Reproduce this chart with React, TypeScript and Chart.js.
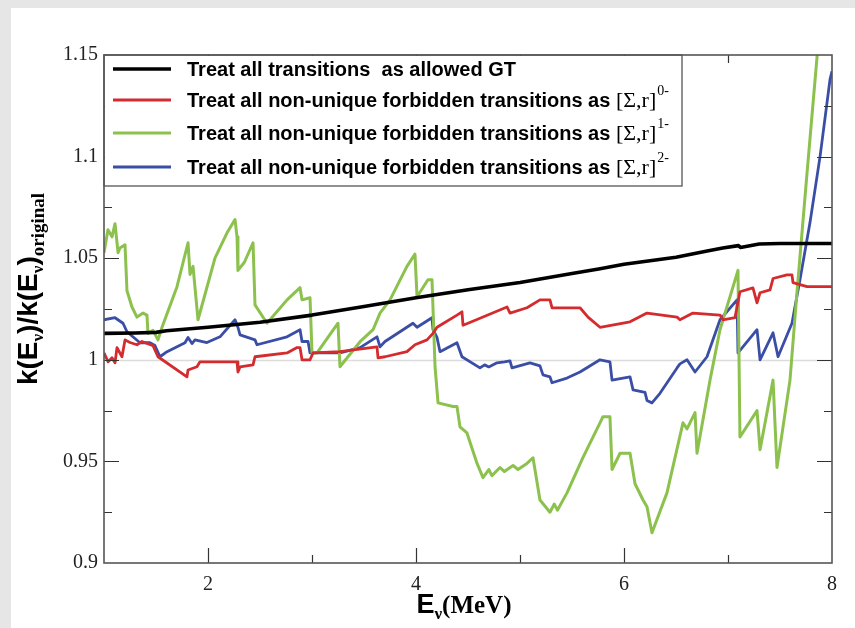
import React, { useEffect, useRef } from 'react';
import { Chart, registerables } from 'chart.js';

Chart.register(...registerables);

const W = 855;
const H = 628;

// Treat all transitions as allowed GT (black)
const allowedE = [1.0, 1.3, 1.5, 1.6, 2.0, 2.5, 3.0, 3.5, 4.0, 4.5, 5.0, 5.5, 5.77, 6.0, 6.5, 6.8, 6.95, 7.1, 7.12, 7.3, 7.5, 7.7, 8.0];
const allowedK = [1.013, 1.0132, 1.0135, 1.0143, 1.016, 1.0185, 1.022, 1.0262, 1.0305, 1.0345, 1.038, 1.0425, 1.0448, 1.047, 1.0505, 1.0535, 1.055, 1.0562, 1.0553, 1.057, 1.0572, 1.0572, 1.0572];

// [Σ,r]0- (red)
const zeroE = [1.0, 1.04, 1.077, 1.106, 1.125, 1.173, 1.202, 1.25, 1.317, 1.365, 1.471, 1.519, 1.798, 1.808, 1.894, 1.923, 2.144, 2.279, 2.288, 2.308, 2.433, 2.452, 2.76, 2.856, 2.885, 2.904, 2.981, 3.01, 3.269, 3.625, 3.635, 3.702, 3.913, 3.99, 4.106, 4.163, 4.202, 4.394, 4.442, 4.452, 4.5, 4.875, 4.904, 5.067, 5.192, 5.288, 5.308, 5.577, 5.654, 5.769, 6.058, 6.221, 6.51, 6.538, 6.663, 6.923, 6.952, 7.067, 7.115, 7.24, 7.279, 7.308, 7.404, 7.433, 7.567, 7.615, 7.625, 7.76, 8.0];
const zeroK = [1.0034, 0.999, 1.001, 0.9985, 1.006, 1.0015, 1.0098, 1.0085, 1.0074, 1.009, 1.007, 1.0015, 0.9916, 0.995, 0.9966, 0.999, 0.999, 0.999, 0.994, 0.9965, 0.9975, 1.0015, 1.0034, 1.006, 1.006, 1.0, 1.0, 1.0034, 1.004, 1.0064, 1.001, 1.0015, 1.004, 1.0074, 1.0098, 1.013, 1.016, 1.022, 1.0236, 1.017, 1.018, 1.026, 1.023, 1.0256, 1.0295, 1.0295, 1.0256, 1.0256, 1.021, 1.016, 1.0187, 1.023, 1.021, 1.0197, 1.023, 1.022, 1.0197, 1.0207, 1.0335, 1.0354, 1.028, 1.033, 1.0344, 1.04, 1.0418, 1.0418, 1.038, 1.036, 1.036];

// [Σ,r]1- (green)
const oneE = [1.0, 1.038, 1.077, 1.106, 1.135, 1.154, 1.202, 1.221, 1.269, 1.317, 1.375, 1.413, 1.423, 1.471, 1.519, 1.558, 1.702, 1.808, 1.827, 1.856, 1.904, 2.067, 2.183, 2.26, 2.279, 2.288, 2.35, 2.433, 2.452, 2.567, 2.76, 2.885, 2.904, 2.981, 3.0, 3.048, 3.25, 3.269, 3.462, 3.587, 3.654, 3.75, 3.913, 3.99, 4.01, 4.115, 4.154, 4.183, 4.212, 4.356, 4.394, 4.423, 4.49, 4.587, 4.644, 4.7, 4.73, 4.808, 4.85, 4.933, 4.98, 5.067, 5.125, 5.192, 5.288, 5.33, 5.36, 5.452, 5.606, 5.769, 5.798, 5.865, 5.885, 5.962, 6.058, 6.106, 6.183, 6.221, 6.269, 6.413, 6.567, 6.606, 6.683, 6.702, 6.827, 6.923, 7.096, 7.115, 7.279, 7.308, 7.433, 7.471, 7.596, 7.663, 7.76, 7.856, 7.9];
const oneK = [1.0527, 1.064, 1.0605, 1.067, 1.0527, 1.055, 1.0566, 1.034, 1.026, 1.021, 1.023, 1.022, 1.013, 1.0145, 1.0098, 1.016, 1.036, 1.0576, 1.042, 1.046, 1.0197, 1.05, 1.0625, 1.069, 1.0605, 1.044, 1.048, 1.0576, 1.027, 1.018, 1.0295, 1.0355, 1.0295, 1.0305, 1.0034, 1.0034, 1.018, 0.9966, 1.0089, 1.0148, 1.023, 1.0295, 1.046, 1.052, 1.031, 1.0394, 1.0394, 0.9966, 0.9788, 0.977, 0.977, 0.967, 0.964, 0.949, 0.942, 0.946, 0.943, 0.947, 0.945, 0.948, 0.946, 0.949, 0.9518, 0.931, 0.925, 0.929, 0.926, 0.9345, 0.952, 0.969, 0.972, 0.972, 0.946, 0.954, 0.954, 0.939, 0.931, 0.9277, 0.9149, 0.9345, 0.969, 0.966, 0.974, 0.954, 0.99, 1.0148, 1.044, 0.962, 0.975, 0.9557, 0.99, 0.947, 0.99, 1.033, 1.092, 1.149, 1.18];

// [Σ,r]2- (blue)
const twoE = [1.0, 1.106, 1.183, 1.221, 1.346, 1.442, 1.49, 1.538, 1.606, 1.779, 1.808, 1.846, 1.875, 1.99, 2.115, 2.26, 2.288, 2.308, 2.452, 2.471, 2.76, 2.885, 2.904, 2.962, 2.981, 3.269, 3.462, 3.625, 3.654, 3.702, 3.971, 4.01, 4.154, 4.163, 4.202, 4.231, 4.394, 4.442, 4.615, 4.66, 4.7, 4.779, 4.85, 4.904, 4.923, 5.096, 5.192, 5.221, 5.288, 5.308, 5.452, 5.577, 5.769, 5.865, 5.885, 6.058, 6.087, 6.202, 6.221, 6.269, 6.346, 6.51, 6.538, 6.606, 6.683, 6.798, 6.923, 7.087, 7.096, 7.279, 7.308, 7.433, 7.481, 7.615, 7.692, 7.788, 7.885, 7.981, 8.0];
const twoK = [1.0197, 1.0207, 1.018, 1.0138, 1.0084, 1.0084, 1.007, 1.0015, 1.004, 1.0084, 1.011, 1.008, 1.0098, 1.0085, 1.0113, 1.0197, 1.016, 1.0123, 1.0098, 1.0074, 1.0113, 1.0148, 1.009, 1.009, 1.0034, 1.0034, 1.006, 1.0113, 1.0064, 1.009, 1.018, 1.016, 1.0207, 1.015, 1.011, 1.004, 1.0084, 1.0015, 0.996, 0.9975, 0.9965, 0.9985, 0.999, 0.9995, 0.996, 0.9985, 0.997, 0.9926, 0.9916, 0.9887, 0.991, 0.994, 1.0, 0.999, 0.99, 0.9916, 0.9852, 0.984, 0.98, 0.9788, 0.9835, 0.996, 0.998, 1.0, 0.994, 1.0015, 1.0197, 1.0295, 1.0034, 1.0148, 1.0, 1.0133, 1.0015, 1.018, 1.0394, 1.0674, 1.1, 1.138, 1.142];

const seriesColors = ['#000000', '#d42b2e', '#8cc14e', '#3b4ea6'];
const seriesWidths = [3.6, 2.8, 3.0, 2.8];
const legendTexts = [
  'Treat all transitions  as allowed GT',
  'Treat all non-unique forbidden transitions as ',
  'Treat all non-unique forbidden transitions as ',
  'Treat all non-unique forbidden transitions as ',
];
const legendBrackets = ['', '[\u03A3,r]', '[\u03A3,r]', '[\u03A3,r]'];
const legendSups = ['', '0-', '1-', '2-'];

const yMajor = [0.95, 1, 1.05, 1.1];
const yMinor = [0.925, 0.975, 1.025, 1.075, 1.125];
const xMajor = [2, 4, 6];
const xMinor = [3, 5, 7];
const xLabelled = [2, 4, 6, 8];

const SANS = "'Liberation Sans', Arial, sans-serif";
const SERIF = "'Liberation Serif', 'Times New Roman', serif";

type Part = { t: string; font: string; dy: number };

function drawParts(ctx: CanvasRenderingContext2D, parts: Part[], cx: number, by: number) {
  let total = 0;
  const widths = parts.map((p) => {
    ctx.font = p.font;
    const w = ctx.measureText(p.t).width;
    total += w;
    return w;
  });
  let x = cx - total / 2;
  ctx.textBaseline = 'alphabetic';
  ctx.textAlign = 'left';
  parts.forEach((p, i) => {
    ctx.font = p.font;
    ctx.fillText(p.t, x, by + p.dy);
    x += widths[i];
  });
}

const decorPlugin = {
  id: 'decor',
  beforeDraw(chart: any) {
    const ctx = chart.ctx as CanvasRenderingContext2D;
    ctx.save();
    ctx.fillStyle = '#e6e6e6';
    ctx.fillRect(0, 0, W, H);
    ctx.fillStyle = '#ffffff';
    ctx.fillRect(11, 8, W - 11, H - 8);
    ctx.restore();
  },
  beforeDatasetsDraw(chart: any) {
    const ctx = chart.ctx as CanvasRenderingContext2D;
    const a = chart.chartArea;
    const y1 = Math.round(chart.scales.y.getPixelForValue(1)) + 0.5;
    ctx.save();
    ctx.strokeStyle = '#dcdcdc';
    ctx.lineWidth = 1.5;
    ctx.beginPath();
    ctx.moveTo(a.left, y1);
    ctx.lineTo(a.right, y1);
    ctx.stroke();
    ctx.restore();
  },
  afterDraw(chart: any) {
    const ctx = chart.ctx as CanvasRenderingContext2D;
    const a = chart.chartArea;
    const xs = chart.scales.x;
    const ys = chart.scales.y;
    ctx.save();
    ctx.strokeStyle = '#333';
    ctx.lineWidth = 1.2;
    const MAJ = 15;
    const MIN = 8;
    ctx.beginPath();
    const xt = (v: number, len: number) => {
      const px = Math.round(xs.getPixelForValue(v)) + 0.5;
      ctx.moveTo(px, a.bottom);
      ctx.lineTo(px, a.bottom - len);
      ctx.moveTo(px, a.top);
      ctx.lineTo(px, a.top + len);
    };
    const yt = (v: number, len: number) => {
      const py = Math.round(ys.getPixelForValue(v)) + 0.5;
      ctx.moveTo(a.left, py);
      ctx.lineTo(a.left + len, py);
      ctx.moveTo(a.right, py);
      ctx.lineTo(a.right - len, py);
    };
    xMajor.forEach((v) => xt(v, MAJ));
    xMinor.forEach((v) => xt(v, MIN));
    yMajor.forEach((v) => yt(v, MAJ));
    yMinor.forEach((v) => yt(v, MIN));
    ctx.stroke();
    ctx.strokeStyle = '#555';
    ctx.lineWidth = 1.6;
    ctx.strokeRect(a.left, a.top, a.right - a.left, a.bottom - a.top);

    // legend box
    const lx0 = a.left;
    const ly0 = a.top;
    const lx1 = a.left + 578;
    const ly1 = a.top + 131;
    ctx.fillStyle = '#fff';
    ctx.fillRect(lx0 + 1, ly0 + 1, lx1 - lx0 - 1, ly1 - ly0 - 1);
    ctx.strokeStyle = '#555';
    ctx.lineWidth = 1.3;
    ctx.strokeRect(lx0, ly0, lx1 - lx0, ly1 - ly0);
    const baselines = [21, 52, 85, 119];
    baselines.forEach((b, i) => {
      const by = a.top + b;
      ctx.strokeStyle = seriesColors[i];
      ctx.lineWidth = i === 0 ? 3.6 : 2.8;
      ctx.beginPath();
      ctx.moveTo(a.left + 9, by - 7);
      ctx.lineTo(a.left + 67, by - 7);
      ctx.stroke();
      ctx.fillStyle = '#000';
      ctx.textAlign = 'left';
      ctx.textBaseline = 'alphabetic';
      ctx.font = `bold 20px ${SANS}`;
      let x = a.left + 83;
      ctx.fillText(legendTexts[i], x, by);
      x += ctx.measureText(legendTexts[i]).width;
      if (legendBrackets[i]) {
        ctx.font = `22px ${SERIF}`;
        ctx.fillText(legendBrackets[i], x, by);
        x += ctx.measureText(legendBrackets[i]).width + 1;
        ctx.font = `14px ${SERIF}`;
        ctx.fillText(legendSups[i], x, by - 12);
      }
    });

    // x title
    ctx.fillStyle = '#000';
    drawParts(
      ctx,
      [
        { t: 'E', font: `bold 27px ${SANS}`, dy: 0 },
        { t: '\u03BD', font: `bold 17px ${SERIF}`, dy: 6 },
        { t: '(MeV)', font: `bold 25px ${SERIF}`, dy: 0 },
      ],
      464,
      613
    );

    // y title (rotated)
    ctx.translate(37, 289);
    ctx.rotate(-Math.PI / 2);
    drawParts(
      ctx,
      [
        { t: 'k(E', font: `bold 28px ${SANS}`, dy: 0 },
        { t: '\u03BD', font: `bold 17px ${SERIF}`, dy: 6 },
        { t: ')/k(E', font: `bold 28px ${SANS}`, dy: 0 },
        { t: '\u03BD', font: `bold 17px ${SERIF}`, dy: 6 },
        { t: ')', font: `bold 28px ${SANS}`, dy: 0 },
        { t: 'original', font: `bold 19px ${SERIF}`, dy: 7 },
      ],
      0,
      0
    );
    ctx.restore();
  },
};

function pts(E: number[], K: number[]) {
  return E.map((e, i) => ({ x: e, y: K[i] }));
}

export default function App() {
  const ref = useRef<HTMLCanvasElement | null>(null);
  useEffect(() => {
    if (!ref.current) return;
    const sets = [
      pts(allowedE, allowedK),
      pts(zeroE, zeroK),
      pts(oneE, oneK),
      pts(twoE, twoK),
    ];
    const labels = ['allowed GT', '[Σ,r]0-', '[Σ,r]1-', '[Σ,r]2-'];
    const chart = new Chart(ref.current, {
      type: 'line',
      data: {
        datasets: sets.map((d, i) => ({
          label: labels[i],
          data: d,
          borderColor: seriesColors[i],
          backgroundColor: seriesColors[i],
          borderWidth: seriesWidths[i],
          pointRadius: 0,
          tension: 0,
          borderJoinStyle: 'round' as const,
          fill: false,
        })),
      },
      options: {
        responsive: false,
        animation: false,
        events: [],
        layout: { padding: { top: 55, right: 23, left: 0, bottom: 0 } },
        plugins: { legend: { display: false }, tooltip: { enabled: false }, title: { display: false } },
        scales: {
          x: {
            type: 'linear',
            min: 1,
            max: 8,
            grid: { display: false, drawTicks: false },
            border: { display: false },
            ticks: {
              stepSize: 1,
              autoSkip: false,
              padding: 10,
              color: '#222',
              font: { family: SERIF, size: 20 },
              callback: (v: any) => (xLabelled.includes(Number(v)) ? String(v) : ''),
            },
            afterFit: (s: any) => {
              s.height = 65;
            },
          },
          y: {
            type: 'linear',
            min: 0.9,
            max: 1.15,
            grid: { display: false, drawTicks: false },
            border: { display: false },
            ticks: {
              stepSize: 0.05,
              padding: 6,
              color: '#222',
              font: { family: SERIF, size: 20 },
              callback: (v: any) => String(parseFloat(Number(v).toFixed(3))),
            },
            afterFit: (s: any) => {
              s.width = 104;
            },
          },
        },
      },
      plugins: [decorPlugin],
    });
    return () => chart.destroy();
  }, []);
  return (
    <div style={{ position: 'fixed', left: 0, top: 0, width: W, height: H }}>
      <canvas ref={ref} width={W} height={H} style={{ display: 'block', width: W, height: H }} />
    </div>
  );
}
